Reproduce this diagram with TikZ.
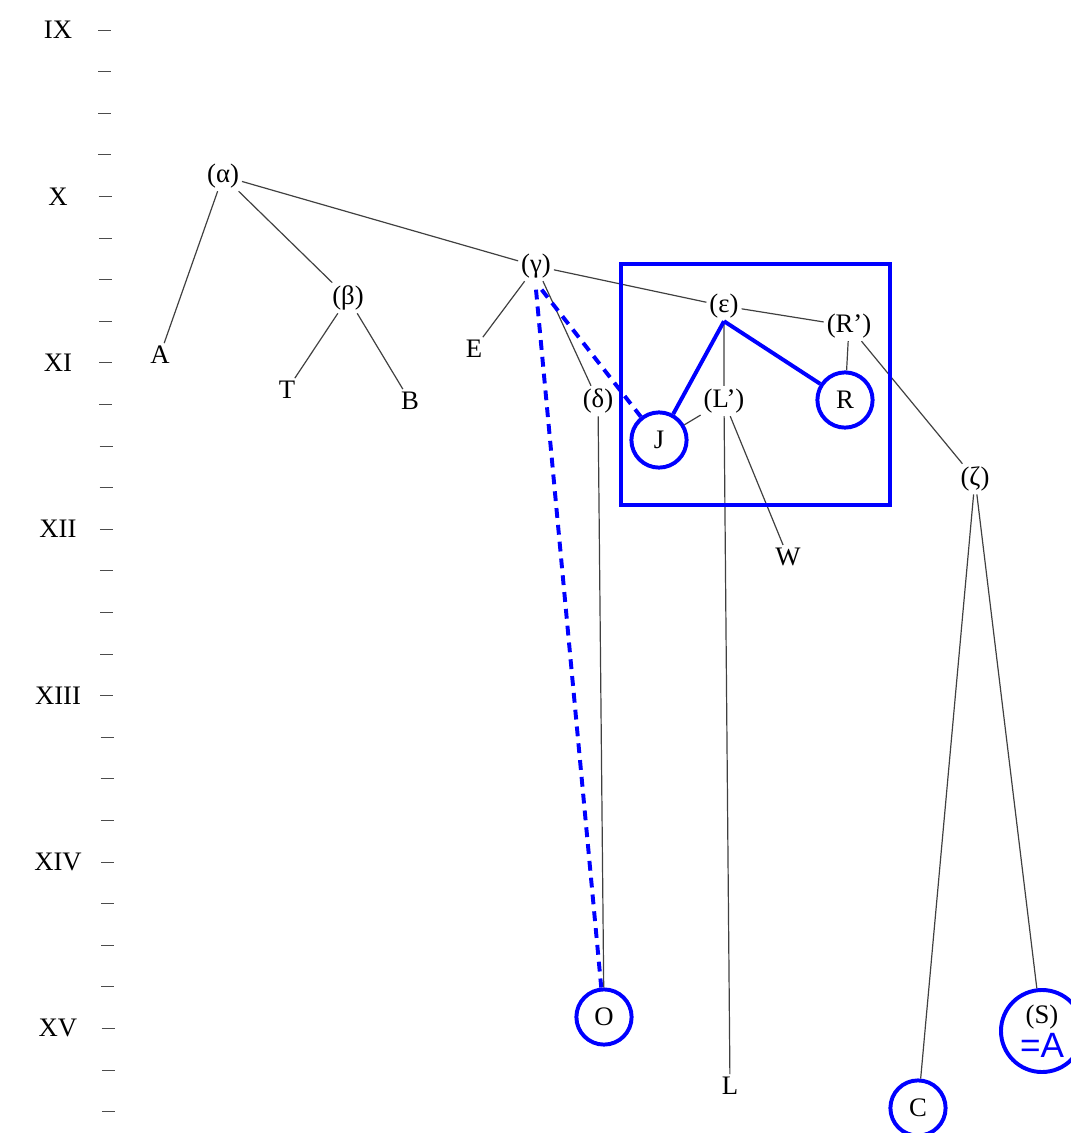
\documentclass[tikz,border=0pt]{standalone}
\usepackage{fontspec}
\setmainfont{Liberation Serif}
\newfontfamily\notefont{Liberation Sans}
\usetikzlibrary{positioning}

\tikzset{
    ms/.style={inner sep=2pt, font=\fontsize{19}{22}\selectfont},
    ring/.style={ms, circle, draw=blue, line width=2.8pt, minimum size=1.38cm},
    stem/.style={draw=black!75, line width=0.85pt},
    pick/.style={draw=blue, line width=2.8pt},
    guess/.style={pick, dash pattern=on 7pt off 5pt},
    tick/.style={draw=black!70, line width=0.7pt}
}

\begin{document}
\begin{tikzpicture}[x=0.025cm, y=-0.025cm]
    \useasboundingbox (0,0) rectangle (1071,1133);

    % Draw the century scale
    \foreach \k in {0,...,26}
        \draw[tick] ({98+0.15*\k},{30+41.6*\k}) -- ++(13,0);
    \foreach \r/\k in {IX/0, X/4, XI/8, XII/12, XIII/16, XIV/20, XV/24}
        \node[ms] at (58,{30+41.6*\k}) {\r};

    % Draw the manuscripts
    \node[ms] (alpha) at (223,176) {(α)};
    \node[ms] (beta)  at (348,298) {(β)};
    \node[ms] (gamma) at (536,266) {(γ)};
    \node[ms] (eps)   at (724,306) {(ε)};
    \node[ms] (Rp)    at (849,326) {(R')};
    \node[ms] (A)     at (160,355) {A};
    \node[ms] (T)     at (287,390) {T};
    \node[ms] (B)     at (410,401) {B};
    \node[ms] (E)     at (474,349) {E};
    \node[ms] (delta) at (598,401) {(δ)};
    \node[ring] (J)   at (659,440) {J};
    \node[ms] (Lp)    at (724,401) {(L')};
    \node[ring] (R)   at (845,400) {R};
    \node[ms] (W)     at (788,557) {W};
    \node[ms] (zeta)  at (975,479) {(ζ)};
    \node[ring] (O)   at (604,1017) {O};
    \node[ms] (L)     at (730,1086) {L};
    \node[ring] (C)   at (918,1108) {C};
    \node[ring, minimum size=2.05cm, align=center] (S) at (1042,1031)
        {(S)\\[2pt]{\notefont\fontsize{25}{25}\selectfont\color{blue}=A}};

    % Connect the manuscripts
    \draw[stem]
        (alpha) -- (A)
        (alpha) -- (beta)
        (alpha) -- (gamma)
        (beta) -- (T)
        (beta) -- (B)
        (gamma) -- (E)
        (gamma) -- (delta)
        (gamma) -- (eps)
        (eps) -- (Rp)
        (eps) -- (Lp)
        (Rp) -- (R)
        (Rp) -- (zeta)
        (Lp) -- (J)
        (Lp) -- (L)
        (Lp) -- (W)
        (delta) -- (O)
        (zeta) -- (C)
        (zeta) -- (S);

    % Revised stemma
    \draw[pick] (621,264) rectangle (890,505);
    \draw[pick] (eps.south) -- (J) (eps.south) -- (R);
    \draw[guess] ([yshift=-6pt]gamma.south) -- (O);
    \draw[guess] ([yshift=-6pt,xshift=4pt]gamma.south) -- (J);
\end{tikzpicture}
\end{document}
